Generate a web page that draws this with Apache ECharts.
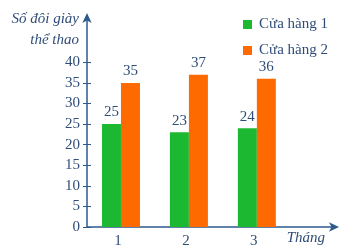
<!DOCTYPE html>
<html><head><meta charset="utf-8">
<script src="https://cdn.jsdelivr.net/npm/echarts@6/dist/echarts.min.js"></script>
<style>html,body{margin:0;padding:0;background:#fff}#c{width:355px;height:250px}</style>
</head><body><div id="c"></div>
<script>
var months = [1, 2, 3];
var monthLabels = ['1', '2', '3'];
var store1 = [25, 23, 24];
var store2 = [35, 37, 36];
var yTicks = [0, 5, 10, 15, 20, 25, 30, 35, 40];
var seriesNames = ['Cửa hàng 1', 'Cửa hàng 2'];
var axisColor = '#2e5a8c';
var textColor = '#2f4d78';
var font = 'Liberation Serif';
var chart = echarts.init(document.getElementById('c'));
function pairs(vals){ return months.map(function(m,i){ return [m, vals[i]]; }); }
chart.setOption({
  animation: false,
  textStyle: {fontFamily: font},
  grid: {left: 87, right: 20, top: 17, bottom: 23},
  legend: {
    orient: 'vertical', left: 238, top: 12, itemWidth: 9, itemHeight: 9, itemGap: 11,
    icon: 'rect', data: seriesNames,
    textStyle: {fontFamily: font, fontSize: 15, color: textColor, padding: [0,0,0,2]}
  },
  xAxis: {
    type: 'value', min: 0.5, max: 4.15,
    splitLine: {show: false},
    axisLine: {show: true, lineStyle: {color: axisColor, width: 1.5}, symbol: ['none', 'arrow'], symbolSize: [7, 10], symbolOffset: [0, 4]},
    axisTick: {show: false},
    axisLabel: {customValues: months, formatter: function(v){ return monthLabels[months.indexOf(v)] || ''; },
      color: textColor, fontSize: 15, fontFamily: font, margin: 7, padding: [0, 6, 0, 0]},
    name: 'Tháng', nameLocation: 'end', nameGap: -10,
    nameTextStyle: {align: 'right', verticalAlign: 'top', padding: [4, 0, 0, 0], fontStyle: 'italic', fontSize: 15, color: textColor, fontFamily: font}
  },
  yAxis: [{
    type: 'value', min: 0, max: 51,
    splitLine: {show: false},
    axisLine: {show: true, lineStyle: {color: axisColor, width: 1.5}, symbol: ['none', 'arrow'], symbolSize: [7, 10], symbolOffset: [0, 4]},
    axisTick: {show: true, customValues: yTicks, length: 4, lineStyle: {color: axisColor}},
    axisLabel: {customValues: yTicks, color: textColor, fontSize: 15, fontFamily: font, margin: 7},
    name: 'Số đôi giày\nthể thao', nameLocation: 'end', nameGap: 8,
    nameTextStyle: {align: 'right', verticalAlign: 'top', padding: [0, 8, 0, 0], lineHeight: 21, fontStyle: 'italic', fontSize: 15, color: textColor, fontFamily: font}
  }, {
    type: 'value', min: 0, max: 51, position: 'left', offset: 0,
    splitLine: {show: false}, axisLine: {show: false}, axisLabel: {show: false},
    axisTick: {show: true, inside: true, customValues: yTicks, length: 4, lineStyle: {color: axisColor}}
  }],
  series: [{
    name: seriesNames[0], type: 'bar', data: pairs(store1), barWidth: 19, barGap: '0%',
    itemStyle: {color: '#1cb832'},
    label: {show: true, position: 'top', distance: 4, color: textColor, fontSize: 15, fontFamily: font}
  }, {
    name: seriesNames[1], type: 'bar', data: pairs(store2), barWidth: 19, barGap: '0%',
    itemStyle: {color: '#ff6a00'},
    label: {show: true, position: 'top', distance: 4, color: textColor, fontSize: 15, fontFamily: font}
  }]
});
</script></body></html>
